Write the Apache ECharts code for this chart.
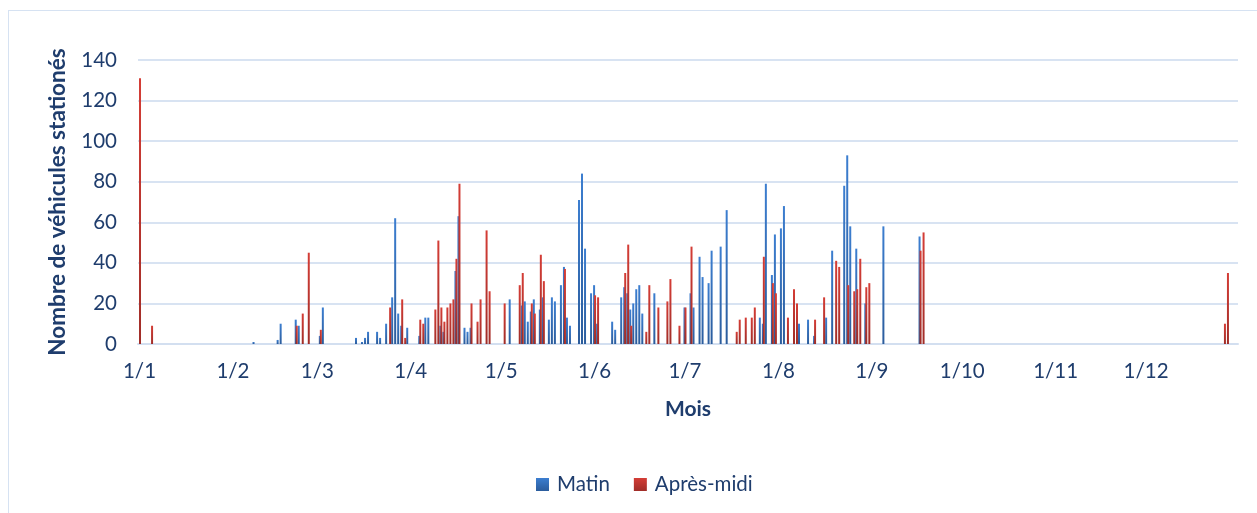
<!DOCTYPE html>
<html lang="fr">
<head>
<meta charset="utf-8">
<title>Véhicules stationnés</title>
<script src="https://cdn.jsdelivr.net/npm/echarts@6/dist/echarts.min.js"></script>
<style>
  html, body { margin: 0; padding: 0; background: #fff; }
  #frame { position: absolute; left: 8px; top: 10px; width: 1250px; height: 505px; border: 1px solid #d6e2f2; box-sizing: border-box; }
  #main { position: absolute; left: 0; top: 0; width: 1257px; height: 513px; }
</style>
</head>
<body>
<div id="frame"></div>
<div id="main"></div>
<script>
// jours de l'annee (0 = 1er janvier) et valeurs
var monthLabels = ['1/1', '1/2', '1/3', '1/4', '1/5', '1/6', '1/7', '1/8', '1/9', '1/10', '1/11', '1/12'];
var monthStarts = [0, 31, 59, 90, 120, 151, 181, 212, 243, 273, 304, 334];

var matinDays = [38, 46, 47, 52, 53, 60, 61, 72, 74, 75, 76, 79, 80, 82, 84, 85, 86, 87, 89,
  93, 95, 96, 100, 101, 105, 106, 108, 109, 110, 123, 127, 128, 129, 130, 131, 133, 134,
  136, 137, 138, 140, 141, 142, 143, 146, 147, 148, 150, 151, 152, 157, 158, 160, 161, 162,
  163, 164, 165, 166, 167, 171, 181, 183, 184, 186, 187, 189, 190, 193, 195, 206, 207, 208,
  210, 211, 213, 214, 219, 222, 224, 228, 230, 234, 235, 236, 238, 241, 247, 259];
var matinValues = [1, 2, 10, 12, 9, 4, 18, 3, 1, 3, 6, 6, 3, 10, 23, 62, 15, 9, 8,
  4, 13, 13, 9, 6, 36, 63, 8, 6, 8, 22, 19, 21, 11, 16, 22, 17, 23,
  12, 23, 21, 29, 38, 13, 9, 71, 84, 47, 25, 29, 10, 11, 7, 23, 28, 25,
  17, 20, 27, 29, 15, 25, 18, 25, 18, 43, 33, 30, 46, 48, 66, 13, 10, 79,
  34, 54, 57, 68, 10, 12, 4, 13, 46, 78, 93, 58, 47, 20, 58, 53];

var apresDays = [0, 4, 52, 54, 56, 60, 83, 87, 88, 93, 94, 98, 99, 100, 101, 102, 103, 104,
  105, 106, 110, 112, 113, 115, 116, 121, 126, 127, 130, 131, 133, 134, 141, 151, 152, 161,
  162, 163, 168, 169, 172, 175, 176, 179, 181, 183, 198, 199, 201, 203, 204, 207, 210, 211,
  215, 217, 218, 224, 227, 231, 232, 235, 237, 238, 239, 241, 242, 259, 260, 360, 361];
var apresValues = [131, 9, 9, 15, 45, 7, 18, 22, 3, 12, 10, 17, 51, 18, 11, 18, 20, 22,
  42, 79, 20, 11, 22, 56, 26, 20, 29, 35, 20, 15, 44, 31, 37, 24, 23, 35,
  49, 9, 6, 29, 18, 21, 32, 9, 18, 48, 6, 12, 13, 13, 18, 43, 30, 25,
  13, 27, 20, 12, 23, 41, 38, 29, 26, 27, 42, 28, 30, 46, 55, 10, 35];

var DAYS = 365;

function toSeries(days, values) {
  var out = [];
  for (var i = 0; i < DAYS; i++) out.push(null);
  for (var j = 0; j < days.length; j++) out[days[j]] = values[j];
  return out;
}

var categories = [];
(function () {
  var m = 0;
  for (var d = 0; d < DAYS; d++) {
    while (m < 11 && d >= monthStarts[m + 1]) m++;
    categories.push((d - monthStarts[m] + 1) + '/' + (m + 1));
  }
})();

var textColor = '#1f3d6d';
var font = 'Lato';

var myChart = echarts.init(document.getElementById('main'));
var option = {
  animation: false,
  textStyle: { fontFamily: font },
  grid: { left: 138, right: 19, top: 60, bottom: 169, containLabel: false },
  legend: {
    left: 531, top: 469,
    itemWidth: 13, itemHeight: 13, itemGap: 24,
    icon: 'rect',
    textStyle: { color: textColor, fontSize: 20.5, fontFamily: font, padding: [0, 0, 0, 3] },
    data: ['Matin', 'Après-midi']
  },
  xAxis: {
    type: 'category',
    data: categories,
    name: 'Mois',
    nameLocation: 'middle',
    nameGap: 55,
    nameTextStyle: { color: textColor, fontSize: 21, fontWeight: 'bold', fontFamily: font },
    axisLine: { lineStyle: { color: '#d3dff0', width: 2 } },
    axisTick: { show: false },
    axisLabel: {
      color: textColor, fontSize: 20.5, margin: 17, fontFamily: font,
      interval: function (idx) { return monthStarts.indexOf(idx) >= 0; },
      formatter: function (val, idx) {
        var k = monthStarts.indexOf(idx);
        return k >= 0 ? monthLabels[k] : '';
      }
    }
  },
  yAxis: {
    type: 'value',
    min: 0, max: 140, interval: 20,
    name: 'Nombre de véhicules stationés',
    nameLocation: 'middle',
    nameGap: 69,
    nameTextStyle: { color: textColor, fontSize: 22.5, fontWeight: 'bold', fontFamily: font },
    axisLine: { show: false },
    axisTick: { show: false },
    axisLabel: { color: textColor, fontSize: 20.5, margin: 21, fontFamily: font },
    splitLine: { lineStyle: { color: '#d8e3f2', width: 2 } }
  },
  series: [
    {
      name: 'Matin',
      type: 'bar',
      data: toSeries(matinDays, matinValues),
      barWidth: 2,
      barGap: '-50%',
      itemStyle: {
        color: new echarts.graphic.LinearGradient(0, 0, 0, 1, [
          { offset: 0, color: '#3c7ed0' },
          { offset: 1, color: '#2b5c9c' }
        ])
      }
    },
    {
      name: 'Après-midi',
      type: 'bar',
      data: toSeries(apresDays, apresValues),
      barWidth: 2,
      itemStyle: {
        color: new echarts.graphic.LinearGradient(0, 0, 0, 1, [
          { offset: 0, color: '#d43d36' },
          { offset: 1, color: '#a02d28' }
        ])
      }
    }
  ]
};
myChart.setOption(option);
</script>
</body>
</html>
